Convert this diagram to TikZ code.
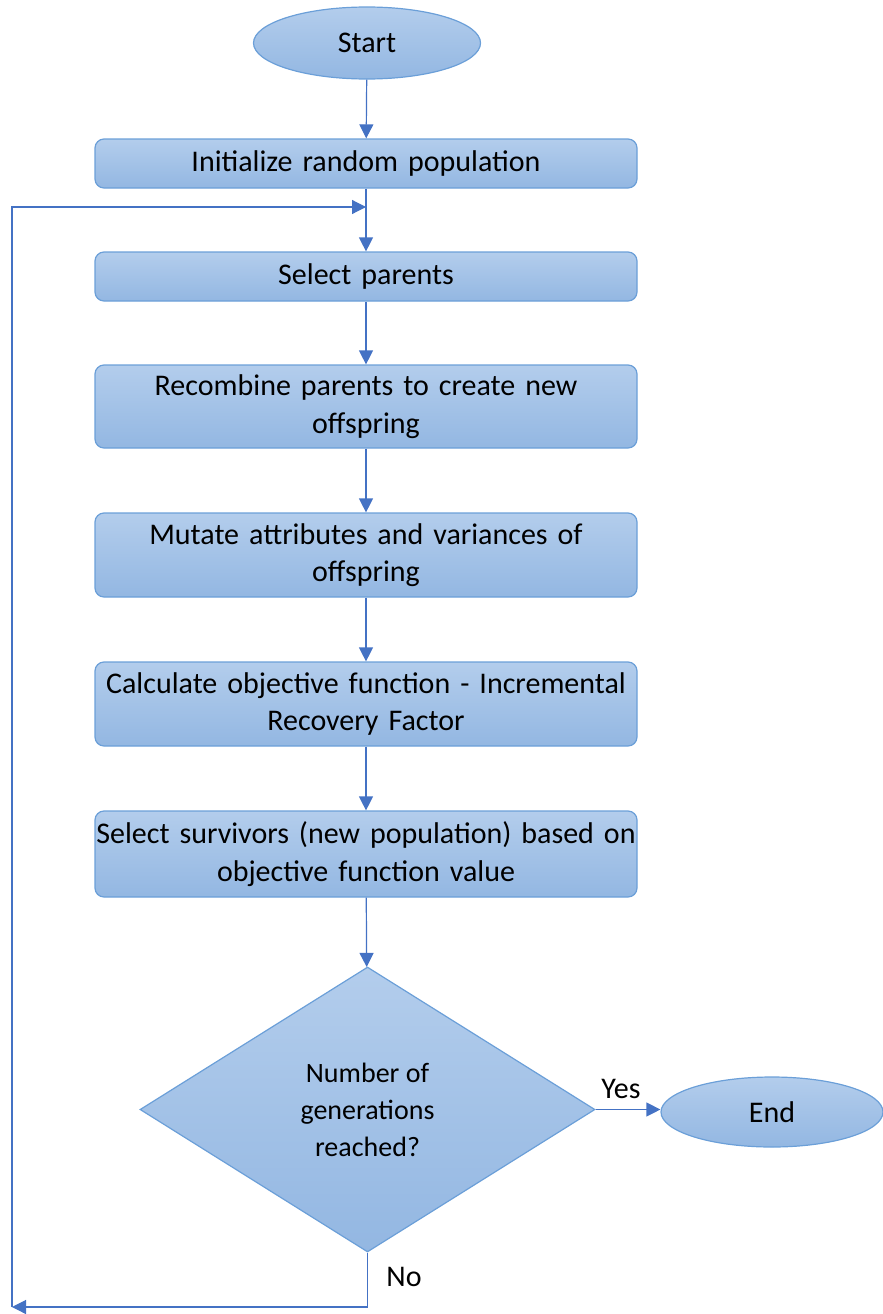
\documentclass[tikz,border=0pt]{standalone}
\usepackage{fontspec}
\setmainfont{Carlito}
\usetikzlibrary{shapes.geometric,arrows.meta}
\definecolor{fillTop}{HTML}{B3CDEC}
\definecolor{fillBot}{HTML}{93B7E2}
\definecolor{edgeC}{HTML}{6B9FD8}
\definecolor{arrowC}{HTML}{4472C4}
\tikzset{
  shade/.style={top color=fillTop, bottom color=fillBot, draw=edgeC, line width=1.2pt},
  procbox/.style={shade, rounded corners=9pt, minimum width=542pt, text width=542pt, align=center, inner sep=0pt, font=\fontsize{30}{37.5}\selectfont},
  term/.style={shade, ellipse, inner sep=0pt, font=\fontsize{30}{37}\selectfont},
  decision/.style={shade, diamond, inner sep=0pt, align=center, font=\fontsize{28}{37}\selectfont},
  conn/.style={draw=arrowC, line width=1.2pt, -{Triangle[length=14pt,width=14pt]}},
  lbl/.style={font=\fontsize{30}{36}\selectfont, inner sep=0pt}
}
\begin{document}
\begin{tikzpicture}[x=1pt,y=-1pt]
\useasboundingbox (0,0) rectangle (883,1314);
\node[term, minimum width=227pt, minimum height=72pt] (start) at (367,43) {Start};
\node[procbox, minimum height=49pt] (init) at (366,163.5) {Initialize random population};
\node[procbox, minimum height=49pt] (sel) at (366,276.5) {Select parents};
\node[procbox, minimum height=83pt] (rec) at (366,406.5) {Recombine parents to create new\\offspring};
\node[procbox, minimum height=84pt] (mut) at (366,555) {Mutate attributes and variances of\\offspring};
\node[procbox, minimum height=84pt] (calc) at (366,704) {Calculate objective function - Incremental\\Recovery Factor};
\node[procbox, minimum height=86pt] (surv) at (366,854) {Select survivors (new population) based on\\objective function value};
\node[decision, minimum width=455pt, minimum height=285pt, aspect=1.6] (dec) at (367.5,1109.5) {Number of\\generations\\reached?};
\node[term, minimum width=222pt, minimum height=70pt] (end) at (772,1112) {End};
\coordinate (loopin) at (init.south |- 0,207);
\coordinate (bl) at (12,1307);
\coordinate (br) at (dec.south |- 0,1307);
\coordinate (tl) at (12,207);

\draw[conn] (start) -- (init);
\draw[conn] (init) -- (sel);
\draw[conn] (sel) -- (rec);
\draw[conn] (rec) -- (mut);
\draw[conn] (mut) -- (calc);
\draw[conn] (calc) -- (surv);
\draw[conn] (surv) -- (dec);
\draw[conn] (dec.east) -- (end.west |- dec.east);
\draw[conn] (dec.south) -- (br) -- (bl);
\draw[conn] (bl) -- (tl) -- (loopin);
\node[lbl, anchor=center] (yes) at (621,1089) {Yes};
\node[lbl, anchor=center] (no) at (404,1277) {No};
\end{tikzpicture}
\end{document}
